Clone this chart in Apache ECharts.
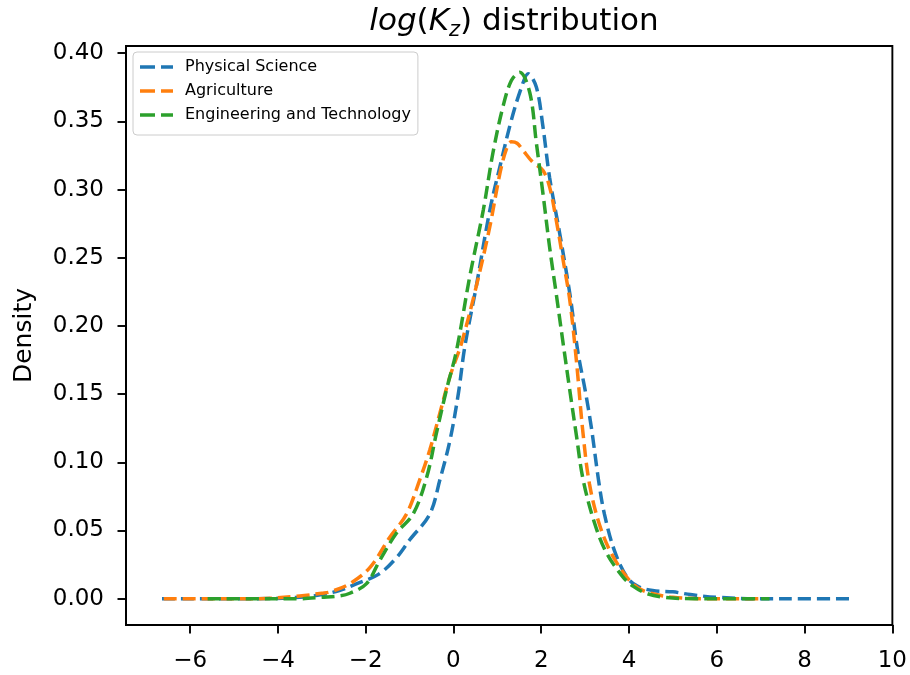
<!DOCTYPE html>
<html lang="en">
<head>
    <meta charset="UTF-8">
    <title>log(Kz) distribution</title>
    <style>
        html, body { margin: 0; padding: 0; background: #fff; }
        #chart { width: 910px; height: 675px; }
    </style>
</head>
<body>
<div id="chart"></div>
<script src="https://cdn.jsdelivr.net/npm/echarts@6/dist/echarts.min.js"></script>
<script>
    // 数据
    var seriesNames = ['Physical Science', 'Agriculture', 'Engineering and Technology'];

    var physX = [-6.64, -4.5, -3.5, -3.0, -2.6, -2.2, -1.7, -1.3, -1.0, -0.54, -0.31, -0.08, 0.11, 0.26, 0.52, 0.83, 1.06, 1.32, 1.55, 1.70, 1.89, 2.04, 2.19, 2.42, 2.65, 2.84, 3.0, 3.14, 3.31, 3.44, 3.67, 3.95, 4.2, 4.54, 5.0, 5.4, 6.0, 7.0, 8.0, 9.13];
    var physY = [0, 0, 0.001, 0.003, 0.006, 0.011, 0.018, 0.03, 0.043, 0.062, 0.087, 0.116, 0.15, 0.185, 0.229, 0.285, 0.317, 0.351, 0.375, 0.385, 0.375, 0.346, 0.309, 0.268, 0.224, 0.18, 0.153, 0.126, 0.086, 0.062, 0.035, 0.016, 0.009, 0.006, 0.005, 0.003, 0.001, 0, 0, 0];

    var agrX = [-6.6, -4.5, -3.5, -3.0, -2.81, -2.36, -1.90, -1.45, -1.07, -0.77, -0.54, -0.31, -0.08, 0.18, 0.52, 0.83, 1.06, 1.21, 1.32, 1.45, 1.58, 1.81, 2.04, 2.19, 2.34, 2.50, 2.65, 2.80, 2.95, 3.10, 3.33, 3.60, 3.97, 4.2, 4.5, 5.0, 5.8, 7.0];
    var agrY = [0, 0, 0.002, 0.004, 0.005, 0.011, 0.023, 0.045, 0.062, 0.087, 0.109, 0.136, 0.163, 0.187, 0.229, 0.273, 0.312, 0.330, 0.335, 0.334, 0.329, 0.320, 0.314, 0.302, 0.278, 0.248, 0.219, 0.175, 0.122, 0.084, 0.054, 0.033, 0.015, 0.008, 0.004, 0.001, 0, 0];

    var engX = [-5.6, -4.5, -3.5, -3.0, -2.6, -2.36, -1.98, -1.68, -1.30, -0.92, -0.61, -0.39, -0.16, 0.07, 0.37, 0.68, 0.90, 1.13, 1.32, 1.51, 1.74, 1.89, 2.04, 2.19, 2.34, 2.50, 2.65, 2.80, 2.95, 3.20, 3.48, 3.86, 4.1, 4.39, 4.8, 5.5, 6.5, 7.2];
    var engY = [0, 0, 0, 0.001, 0.002, 0.004, 0.011, 0.028, 0.048, 0.062, 0.089, 0.121, 0.153, 0.182, 0.236, 0.285, 0.327, 0.361, 0.380, 0.386, 0.371, 0.334, 0.297, 0.258, 0.224, 0.187, 0.153, 0.12, 0.088, 0.057, 0.034, 0.016, 0.009, 0.004, 0.001, 0, 0, 0];

    var xTicks = [-6, -4, -2, 0, 2, 4, 6, 8, 10];
    var yTicks = [0, 0.05, 0.1, 0.15, 0.2, 0.25, 0.3, 0.35, 0.4];

    var colors = ['#1f77b4', '#ff7f0e', '#2ca02c'];
    var font = 'DejaVu Sans';
    // 图例里的虚线小样（两段）
    var dashIcon = 'path://M0,0H15V4H0ZM21,0H33V4H21Z';

    function pairs(xs, ys) {
        var out = [];
        for (var i = 0; i < xs.length; i++) {
            out.push([xs[i], ys[i]]);
        }
        return out;
    }

    function minus(v) {
        return v < 0 ? '\u2212' + Math.abs(v) : String(v);
    }

    function makeLine(name, xs, ys, color) {
        return {
            name: name,
            type: 'line',
            data: pairs(xs, ys),
            smooth: 0.35,
            symbol: 'none',
            animation: false,
            lineStyle: { color: color, width: 3.5, type: [13, 6] },
            itemStyle: { color: color }
        };
    }

    var chart = echarts.init(document.getElementById('chart'), null, { renderer: 'canvas' });

    chart.setOption({
        backgroundColor: '#fff',
        animation: false,
        color: colors,
        title: {
            text: '{it|log}{n|(}{it|K}{sub|z}{n|)} distribution',
            left: 509,
            textAlign: 'center',
            top: -2,
            textStyle: {
                fontFamily: font,
                fontSize: 31,
                fontWeight: 'normal',
                color: '#000',
                rich: {
                    it: { fontFamily: font, fontSize: 31, fontStyle: 'italic', color: '#000', lineHeight: 38 },
                    n: { fontFamily: font, fontSize: 31, color: '#000', lineHeight: 38 },
                    sub: { fontFamily: font, fontSize: 21, fontStyle: 'italic', color: '#000', lineHeight: 22, padding: [18, 0, 0, 0] }
                }
            }
        },
        legend: {
            orient: 'vertical',
            left: 133,
            top: 52,
            icon: dashIcon,
            symbolKeepAspect: false,
            itemWidth: 33,
            itemHeight: 3.5,
            itemGap: 8,
            padding: [7, 7, 12, 7],
            backgroundColor: 'rgba(255,255,255,0.8)',
            borderColor: '#cccccc',
            borderWidth: 1,
            borderRadius: 4,
            textStyle: { fontFamily: font, fontSize: 16, color: '#000', lineHeight: 16, padding: [0, 0, 0, 7] },
            data: seriesNames
        },
        grid: {
            left: 126,
            right: 17,
            top: 46,
            bottom: 50,
            containLabel: false,
            show: true,
            borderColor: '#000',
            borderWidth: 1.9,
            backgroundColor: 'transparent'
        },
        xAxis: {
            type: 'value',
            min: -7.46,
            max: 10,
            splitLine: { show: false },
            axisLine: { show: true, onZero: false, lineStyle: { color: '#000', width: 1.9 } },
            axisTick: { show: true, length: 8.5, lineStyle: { color: '#000', width: 1.9 }, customValues: xTicks },
            axisLabel: {
                customValues: xTicks,
                margin: 25,
                fontFamily: font,
                fontSize: 23,
                color: '#000',
                formatter: minus
            }
        },
        yAxis: {
            type: 'value',
            min: -0.0193,
            max: 0.4053,
            name: 'Density',
            nameLocation: 'middle',
            nameGap: 89,
            nameTextStyle: { fontFamily: font, fontSize: 25, color: '#000' },
            splitLine: { show: false },
            axisLine: { show: true, onZero: false, lineStyle: { color: '#000', width: 1.9 } },
            axisTick: { show: true, length: 8.5, lineStyle: { color: '#000', width: 1.9 }, customValues: yTicks },
            axisLabel: {
                customValues: yTicks,
                margin: 22,
                fontFamily: font,
                fontSize: 23,
                color: '#000',
                formatter: function (v) { return v.toFixed(2); }
            }
        },
        series: [
            makeLine(seriesNames[0], physX, physY, colors[0]),
            makeLine(seriesNames[1], agrX, agrY, colors[1]),
            makeLine(seriesNames[2], engX, engY, colors[2])
        ]
    });
</script>
</body>
</html>
